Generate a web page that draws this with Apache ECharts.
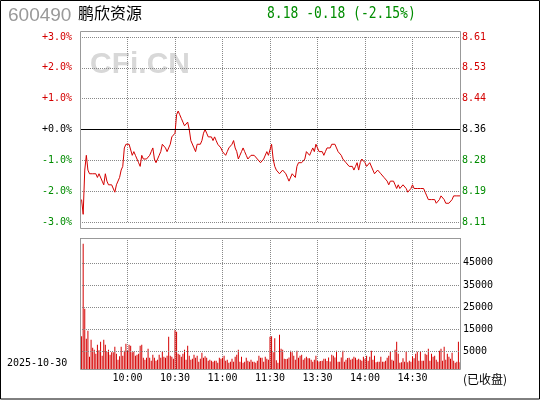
<!DOCTYPE html>
<html lang="zh-CN">
<head>
    <meta charset="UTF-8">
    <title>鹏欣资源 分时</title>
    <script src="https://cdn.jsdelivr.net/npm/echarts@6.0.0/dist/echarts.min.js"></script>
    <style>
        body { margin: 0; background: #fff; }
    </style>
</head>
<body>
<div id="main" style="width: 540px;height: 400px;"></div>

<script type="text/javascript">
    // 基本信息
    var stockCode = '600490';
    var stockName = '鹏欣资源';
    var tradeDate = '2025-10-30';
    var prevClose = 8.36;
    var lastPrice = 8.18;
    var change = -0.18;
    var changePct = -2.15;

    // 分时价格（9:31 ~ 15:00，每分钟一个点）
    var prices = [
        8.17, 8.13, 8.25, 8.29, 8.25, 8.24, 8.24, 8.24, 8.24, 8.24,
        8.23, 8.24, 8.24, 8.22, 8.21, 8.24, 8.22, 8.21, 8.21, 8.21,
        8.21, 8.19, 8.21, 8.21, 8.23, 8.25, 8.26, 8.31, 8.32, 8.32,
        8.32, 8.32, 8.29, 8.30, 8.29, 8.29, 8.27, 8.26, 8.29, 8.28,
        8.28, 8.28, 8.28, 8.29, 8.30, 8.31, 8.28, 8.27, 8.27, 8.29,
        8.30, 8.32, 8.32, 8.31, 8.30, 8.31, 8.32, 8.34, 8.34, 8.35,
        8.40, 8.41, 8.40, 8.39, 8.38, 8.37, 8.37, 8.38, 8.36, 8.33,
        8.33, 8.31, 8.30, 8.32, 8.32, 8.32, 8.33, 8.35, 8.36, 8.35,
        8.34, 8.34, 8.34, 8.33, 8.34, 8.33, 8.32, 8.32, 8.31, 8.30,
        8.30, 8.29, 8.30, 8.31, 8.31, 8.32, 8.33, 8.31, 8.30, 8.28,
        8.29, 8.30, 8.31, 8.30, 8.29, 8.28, 8.28, 8.29, 8.29, 8.29,
        8.29, 8.28, 8.28, 8.27, 8.27, 8.28, 8.28, 8.30, 8.29, 8.29,
        8.32, 8.28, 8.26, 8.25, 8.25, 8.24, 8.24, 8.25, 8.25, 8.24,
        8.23, 8.22, 8.22, 8.24, 8.24, 8.23, 8.26, 8.27, 8.27, 8.27,
        8.27, 8.28, 8.30, 8.30, 8.29, 8.30, 8.31, 8.30, 8.32, 8.31,
        8.30, 8.30, 8.30, 8.29, 8.30, 8.31, 8.31, 8.31, 8.32, 8.32,
        8.32, 8.31, 8.30, 8.30, 8.29, 8.28, 8.28, 8.27, 8.27, 8.26,
        8.26, 8.26, 8.25, 8.26, 8.27, 8.25, 8.27, 8.28, 8.28, 8.27,
        8.26, 8.26, 8.27, 8.27, 8.25, 8.24, 8.24, 8.25, 8.25, 8.24,
        8.24, 8.23, 8.23, 8.22, 8.21, 8.22, 8.22, 8.22, 8.21, 8.20,
        8.21, 8.20, 8.20, 8.21, 8.21, 8.20, 8.19, 8.19, 8.20, 8.21,
        8.20, 8.20, 8.20, 8.20, 8.20, 8.20, 8.20, 8.19, 8.18, 8.17,
        8.17, 8.17, 8.17, 8.17, 8.16, 8.16, 8.17, 8.18, 8.18, 8.17,
        8.16, 8.16, 8.16, 8.16, 8.17, 8.18, 8.18, 8.18, 8.18, 8.18
    ];

    // 分时成交量（手）
    var volumes = [
        14700, 56400, 27100, 13600, 17200, 5500, 13200, 9600, 8700, 6900,
        10900, 8400, 12300, 6000, 13200, 10900, 7800, 8700, 6400, 7500,
        7500, 10000, 6900, 4200, 5700, 10000, 6000, 8200, 11400, 8200,
        10900, 10500, 7500, 7800, 6000, 6400, 6900, 10500, 10900, 5100,
        4200, 5100, 9100, 5100, 3700, 6400, 5100, 3700, 4200, 6400,
        5100, 7800, 5500, 5100, 6000, 14500, 6000, 5500, 4600, 17400,
        16800, 6900, 6400, 5500, 6900, 8700, 4200, 10500, 6000, 4200,
        4600, 6400, 5100, 6000, 3300, 4600, 7300, 5100, 5700, 5100,
        3700, 4200, 3700, 3300, 3700, 3700, 2800, 5100, 4600, 5100,
        6000, 3700, 4200, 2800, 3300, 4600, 3300, 5500, 6400, 8700,
        3300, 5500, 2800, 3300, 5100, 3700, 3300, 4200, 3300, 3300,
        2800, 3700, 6000, 5100, 5100, 3300, 5500, 4600, 4200, 14500,
        14700, 7500, 13900, 3900, 2800, 15400, 9100, 8700, 4600, 4500,
        4600, 5200, 8200, 7500, 6000, 4200, 8200, 5100, 6000, 6400,
        4200, 4800, 5500, 4800, 4800, 4200, 3300, 4200, 6000, 3600,
        3400, 3600, 3700, 4600, 4600, 3600, 5200, 3400, 6400, 6000,
        5200, 8200, 3300, 3300, 5200, 8200, 3300, 4200, 4900, 5100,
        4200, 4600, 5500, 5100, 4200, 4600, 4200, 3700, 5500, 4600,
        6000, 3700, 5500, 8200, 4200, 6000, 3000, 3300, 3300, 5500,
        3300, 3300, 3700, 5100, 6000, 7800, 4200, 3700, 8700, 12300,
        6900, 2800, 3000, 4800, 3300, 7800, 3000, 3700, 3300, 5700,
        4800, 6900, 7800, 3700, 7800, 3700, 3700, 6900, 6400, 9100,
        3700, 6900, 5500, 6000, 4200, 3300, 8200, 9100, 3700, 10000,
        4200, 6900, 5500, 4600, 7300, 3700, 2800, 3300, 12300, 3000
    ];

    // 刻度
    var pctTicks = [-3, -2, -1, 0, 1, 2, 3];
    var timeLabels = ['10:00', '10:30', '11:00', '11:30', '13:30', '14:00', '14:30'];
    var volGridVals = [7800, 17800, 27800, 37800, 47800];
    var volLabels = ['5000', '15000', '25000', '35000', '45000'];

    var RED = '#d40000', GREEN = '#008c00';
    var MONO = 'DejaVu Sans Mono';

    // 虚线网格样式（每处单独生成）
    function gridLine() {
        return {color: '#888', width: 1, type: 'dotted'};
    }

    var priceTicks = pctTicks.map(function (k) { return prevClose * (1 + k / 100); });

    function signColor(d) {
        if (Math.abs(d) < 1e-6) return '#000';
        return d > 0 ? RED : GREEN;
    }

    var myChart = echarts.init(document.getElementById('main'));

    var option = {
        animation: false,
        backgroundColor: '#fff',
        grid: [
            {left: 80, top: 37, width: 380, height: 185}, // 价格区（-3% ~ +3%）
            {left: 80, top: 238, width: 380, height: 131}  // 成交量区
        ],
        xAxis: [
            {
                type: 'value', gridIndex: 0, min: 0, max: 240, interval: 30,
                axisLine: {show: false},
                axisTick: {show: false},
                axisLabel: {show: false},
                splitLine: {show: true, lineStyle: gridLine()}
            },
            {
                type: 'value', gridIndex: 1, min: 0, max: 240, interval: 30,
                axisLine: {show: false},
                axisTick: {show: false},
                axisLabel: {
                    margin: 4,
                    color: '#000',
                    fontFamily: MONO,
                    fontSize: 10,
                    showMinLabel: false,
                    showMaxLabel: false,
                    formatter: function (v) { return timeLabels[v / 30 - 1] || ''; }
                },
                splitLine: {show: true, lineStyle: gridLine()}
            }
        ],
        yAxis: [
            { // 左侧涨跌幅
                type: 'value', gridIndex: 0, min: -3, max: 3, interval: 1, position: 'left',
                axisLine: {show: false},
                axisTick: {show: false},
                axisLabel: {
                    margin: 8,
                    fontFamily: MONO,
                    fontSize: 10,
                    color: function (v) { return signColor(parseFloat(v)); },
                    formatter: function (v) { return (v >= 0 ? '+' : '') + v.toFixed(1) + '%'; }
                },
                splitLine: {show: true, lineStyle: gridLine()}
            },
            { // 右侧价格
                type: 'value', gridIndex: 0, min: priceTicks[0], max: priceTicks[6], position: 'right',
                axisLine: {show: false},
                axisTick: {show: false, customValues: priceTicks},
                axisLabel: {
                    customValues: priceTicks,
                    margin: 2,
                    fontFamily: MONO,
                    fontSize: 10,
                    color: function (v) { return signColor(parseFloat(v) - prevClose); },
                    formatter: function (v) { return v.toFixed(2); }
                },
                splitLine: {show: false}
            },
            { // 成交量
                type: 'value', gridIndex: 1, min: 0, max: 59000, position: 'right',
                axisLine: {show: false},
                axisTick: {show: false, customValues: volGridVals},
                axisLabel: {
                    customValues: volGridVals,
                    margin: 3,
                    fontFamily: MONO,
                    fontSize: 10,
                    color: '#000',
                    formatter: function (v) { return volLabels[volGridVals.indexOf(v)]; }
                },
                splitLine: {show: false}
            }
        ],
        graphic: [
            {type: 'text', left: 8, top: 6, z: 10,
                style: {text: stockCode, fill: '#999', font: '19px "Liberation Sans"'}},
            {type: 'text', left: 78, top: 5, z: 10,
                style: {text: stockName, fill: '#000', font: '16px "Noto Sans CJK SC"'}},
            {type: 'text', left: 267, top: 6, z: 10, scaleY: 1.2,
                style: {
                    text: lastPrice.toFixed(2) + ' ' + change.toFixed(2) + ' (' + changePct.toFixed(2) + '%)',
                    fill: GREEN, font: '13px "' + MONO + '"'
                }},
            {type: 'text', left: 90, top: 50, z: 0,
                style: {text: 'CFi.CN', fill: '#d8d8d8', font: 'bold 30px "Liberation Sans"'}},
            {type: 'text', left: 7, top: 358, z: 10,
                style: {text: tradeDate, fill: '#000', font: '10px "' + MONO + '"'}},
            {type: 'text', left: 463, top: 373, z: 10,
                style: {text: '(已收盘)', fill: '#000', font: '12px "Noto Sans CJK SC"'}},
            // 两个图区的外框
            {type: 'rect', z: 10, silent: true,
                shape: {x: 80.5, y: 31.5, width: 380, height: 197},
                style: {fill: 'none', stroke: '#999', lineWidth: 1}},
            {type: 'rect', z: 10, silent: true,
                shape: {x: 80.5, y: 238.5, width: 380, height: 131},
                style: {fill: 'none', stroke: '#999', lineWidth: 1}},
            // 整图黑边
            {type: 'rect', z: 10, silent: true,
                shape: {x: 0.5, y: 0.5, width: 539, height: 398.5},
                style: {fill: 'none', stroke: '#000', lineWidth: 1}}
        ],
        series: [
            {
                name: '价格',
                type: 'line',
                xAxisIndex: 0,
                yAxisIndex: 0,
                showSymbol: false,
                lineStyle: {color: RED, width: 1},
                // 换算成涨跌幅画在左轴上
                data: prices.map(function (p, i) { return [i + 1, (p / prevClose - 1) * 100]; }),
                markLine: {
                    silent: true,
                    symbol: 'none',
                    label: {show: false},
                    lineStyle: {color: '#000', width: 1, type: 'solid'},
                    data: [{yAxis: 0}]
                }
            },
            {
                name: '成交量',
                type: 'bar',
                xAxisIndex: 1,
                yAxisIndex: 2,
                barWidth: 1,
                itemStyle: {color: RED},
                data: volumes.map(function (v, i) { return [i + 1, v]; }),
                markLine: { // 成交量区的横向虚线
                    silent: true,
                    symbol: 'none',
                    label: {show: false},
                    lineStyle: gridLine(),
                    data: volGridVals.map(function (v) { return {yAxis: v}; })
                }
            }
        ]
    };

    myChart.setOption(option);
</script>
</body>
</html>
